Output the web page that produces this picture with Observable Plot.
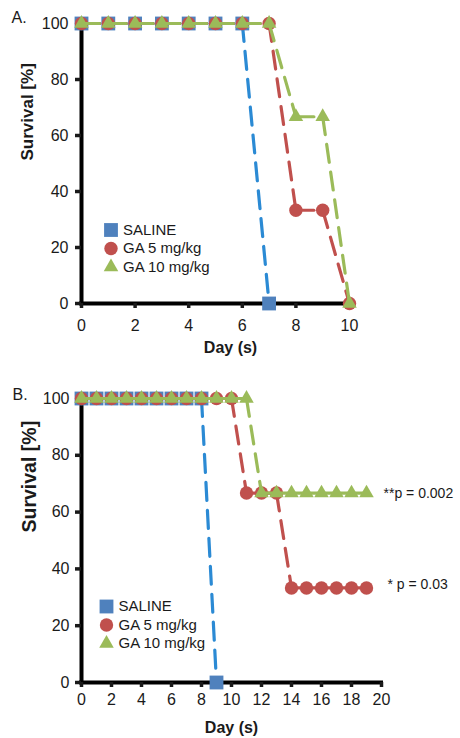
<!DOCTYPE html>
<html>
<head>
<meta charset="utf-8">
<script src="https://cdn.jsdelivr.net/npm/d3@7"></script>
<script src="https://cdn.jsdelivr.net/npm/@observablehq/plot@0.6"></script>
<style>
  html, body { margin: 0; padding: 0; background: #fff; }
  #chart { width: 460px; }
  #chart svg { display: block; }
</style>
</head>
<body>
<div id="chart"></div>
<script>
// ---------- Data ----------
const seriesNames = ["SALINE", "GA 5 mg/kg", "GA 10 mg/kg"];

// Panel A
const daysA = [0, 1, 2, 3, 4, 5, 6, 7, 8, 9, 10];
const salineA = [100, 100, 100, 100, 100, 100, 100, 0, null, null, null];
const ga5A    = [100, 100, 100, 100, 100, 100, 100, 100, 33.3, 33.3, 0];
const ga10A   = [100, 100, 100, 100, 100, 100, 100, 100, 66.7, 66.7, 0];
const xTicksA = [0, 2, 4, 6, 8, 10];

// Panel B
const daysB = [0, 1, 2, 3, 4, 5, 6, 7, 8, 9, 10, 11, 12, 13, 14, 15, 16, 17, 18, 19];
const salineB = [100, 100, 100, 100, 100, 100, 100, 100, 100, 0, null, null, null, null, null, null, null, null, null, null];
const ga5B    = [100, 100, 100, 100, 100, 100, 100, 100, 100, 100, 100, 66.7, 66.7, 66.7, 33.3, 33.3, 33.3, 33.3, 33.3, 33.3];
const ga10B   = [100, 100, 100, 100, 100, 100, 100, 100, 100, 100, 100, 100, 66.7, 66.7, 66.7, 66.7, 66.7, 66.7, 66.7, 66.7];
const xTicksB = [0, 2, 4, 6, 8, 10, 12, 14, 16, 18, 20];

const yTicks = [0, 20, 40, 60, 80, 100];
const pLabels = [{series: "GA 10 mg/kg", text: "**p = 0.002"}, {series: "GA 5 mg/kg", text: "* p = 0.03"}];

// ---------- Styles ----------
const lineColors = {"SALINE": "#2b8ad4", "GA 5 mg/kg": "#c0504d", "GA 10 mg/kg": "#9bbb59"};
const markColors = {"SALINE": "#4f81bd", "GA 5 mg/kg": "#c0504d", "GA 10 mg/kg": "#9bbb59"};
const symbols = {"SALINE": "square", "GA 5 mg/kg": "circle", "GA 10 mg/kg": "triangle"};
const radii = {"SALINE": 7.8, "GA 5 mg/kg": 6.7, "GA 10 mg/kg": 5.4};
const FONT = "'Liberation Sans', Arial, Helvetica, sans-serif";

function toPoints(days, values, name) {
  const pts = [];
  days.forEach((d, i) => { if (values[i] != null) pts.push({name, day: d, v: values[i]}); });
  return pts;
}
function toSegments(days, values, name) {
  const segs = [];
  for (let i = 0; i < days.length - 1; i++) {
    if (values[i] != null && values[i + 1] != null)
      segs.push({name, x1: days[i], y1: values[i], x2: days[i + 1], y2: values[i + 1]});
  }
  return segs;
}

function panel(cfg) {
  const marks = [];
  // axes lines
  marks.push(Plot.ruleX([0], {stroke: "#000", strokeWidth: 4}));
  marks.push(Plot.ruleY([0], {stroke: "#000", strokeWidth: 4, strokeLinecap: "square"}));
  marks.push(Plot.axisY({ticks: yTicks, tickSize: 6, tickPadding: cfg.yPad, fontSize: 16, strokeWidth: 3.5, label: null}));
  marks.push(Plot.axisX({ticks: cfg.xTicks, tickSize: 5, tickPadding: cfg.xPad, fontSize: 16, strokeWidth: 3.5, label: null, tickFormat: d => String(d)}));
  // series
  cfg.series.forEach(([name, vals]) => {
    marks.push(Plot.link(toSegments(cfg.days, vals, name), {
      x1: "x1", y1: "y1", x2: "x2", y2: "y2",
      stroke: lineColors[name], strokeWidth: 3.2, strokeDasharray: cfg.dash, strokeLinecap: "round"
    }));
    marks.push(Plot.dot(toPoints(cfg.days, vals, name), {
      x: "day", y: "v", symbol: () => symbols[name], r: radii[name], fill: markColors[name], stroke: "none"
    }));
  });
  // legend
  seriesNames.forEach((name, i) => {
    marks.push(Plot.dot([name], {frameAnchor: "top-left", dx: cfg.leg.dx, dy: cfg.leg.dy + i * cfg.leg.step,
      symbol: () => symbols[name], r: radii[name], fill: markColors[name]}));
    marks.push(Plot.text([name], {frameAnchor: "top-left", dx: cfg.leg.dx + 12, dy: cfg.leg.dy + i * cfg.leg.step,
      text: d => d, textAnchor: "start", lineAnchor: "middle", fontSize: 15, fill: "#1a1a1a"}));
  });
  // panel letter
  marks.push(Plot.text([cfg.letter], {frameAnchor: "top-left", dx: cfg.letterDx, dy: cfg.letterDy, text: d => d,
    textAnchor: "start", lineAnchor: "middle", fontSize: 16, fill: "#1a1a1a"}));
  // axis titles
  marks.push(Plot.text(["Survival [%]"], {frameAnchor: "left", dx: cfg.yTitle.dx, dy: cfg.yTitle.dy, rotate: -90,
    text: d => d, lineAnchor: "middle", fontSize: cfg.yTitle.size, fontWeight: "bold", fill: "#1a1a1a"}));
  marks.push(Plot.text(["Day (s)"], {frameAnchor: "bottom", dx: cfg.xTitle.dx, dy: cfg.xTitle.dy,
    text: d => d, lineAnchor: "middle", fontSize: 16, fontWeight: "bold", fill: "#1a1a1a"}));
  if (cfg.extra) marks.push(...cfg.extra);

  return Plot.plot({
    width: 460,
    height: cfg.height,
    marginLeft: 81,
    marginRight: cfg.marginRight,
    marginTop: cfg.marginTop,
    marginBottom: cfg.marginBottom,
    x: {domain: cfg.xDomain},
    y: {domain: [0, 100]},
    style: {fontFamily: FONT, fontSize: "16px", color: "#1a1a1a", background: "#fff", overflow: "visible"},
    marks
  });
}

const chartA = panel({
  height: 360, marginRight: 111, marginTop: 23, marginBottom: 57,
  xDomain: [0, 10], xTicks: xTicksA, days: daysA, yPad: 7, xPad: 11, dash: "18,10",
  series: [["SALINE", salineA], ["GA 5 mg/kg", ga5A], ["GA 10 mg/kg", ga10A]],
  leg: {dx: 29.5, dy: 206.5, step: 18.5},
  letter: "A.", letterDx: -70, letterDy: -5.5,
  yTitle: {dx: -54, dy: -3, size: 17},
  xTitle: {dx: 15, dy: 44}
});

const lastB = daysB[daysB.length - 1];
const chartB = panel({
  height: 378, marginRight: 79, marginTop: 38, marginBottom: 56,
  xDomain: [0, 20], xTicks: xTicksB, days: daysB, yPad: 6, xPad: 6, dash: "18,10",
  series: [["SALINE", salineB], ["GA 5 mg/kg", ga5B], ["GA 10 mg/kg", ga10B]],
  leg: {dx: 25, dy: 208, step: 18.5},
  letter: "B.", letterDx: -69, letterDy: -4,
  yTitle: {dx: -51.5, dy: -8, size: 19.5},
  xTitle: {dx: 0, dy: 45},
  extra: [
    Plot.text([pLabels[0]], {x: () => lastB, y: () => ga10B[ga10B.length - 1], text: "text", dx: 17, dy: 0,
      textAnchor: "start", lineAnchor: "middle", fontSize: 14, fill: "#1a1a1a"}),
    Plot.text([pLabels[1]], {x: () => lastB, y: () => ga5B[ga5B.length - 1], text: "text", dx: 21, dy: -3,
      textAnchor: "start", lineAnchor: "middle", fontSize: 14, fill: "#1a1a1a"})
  ]
});

const root = document.getElementById("chart");
root.appendChild(chartA);
root.appendChild(chartB);
</script>
</body>
</html>
